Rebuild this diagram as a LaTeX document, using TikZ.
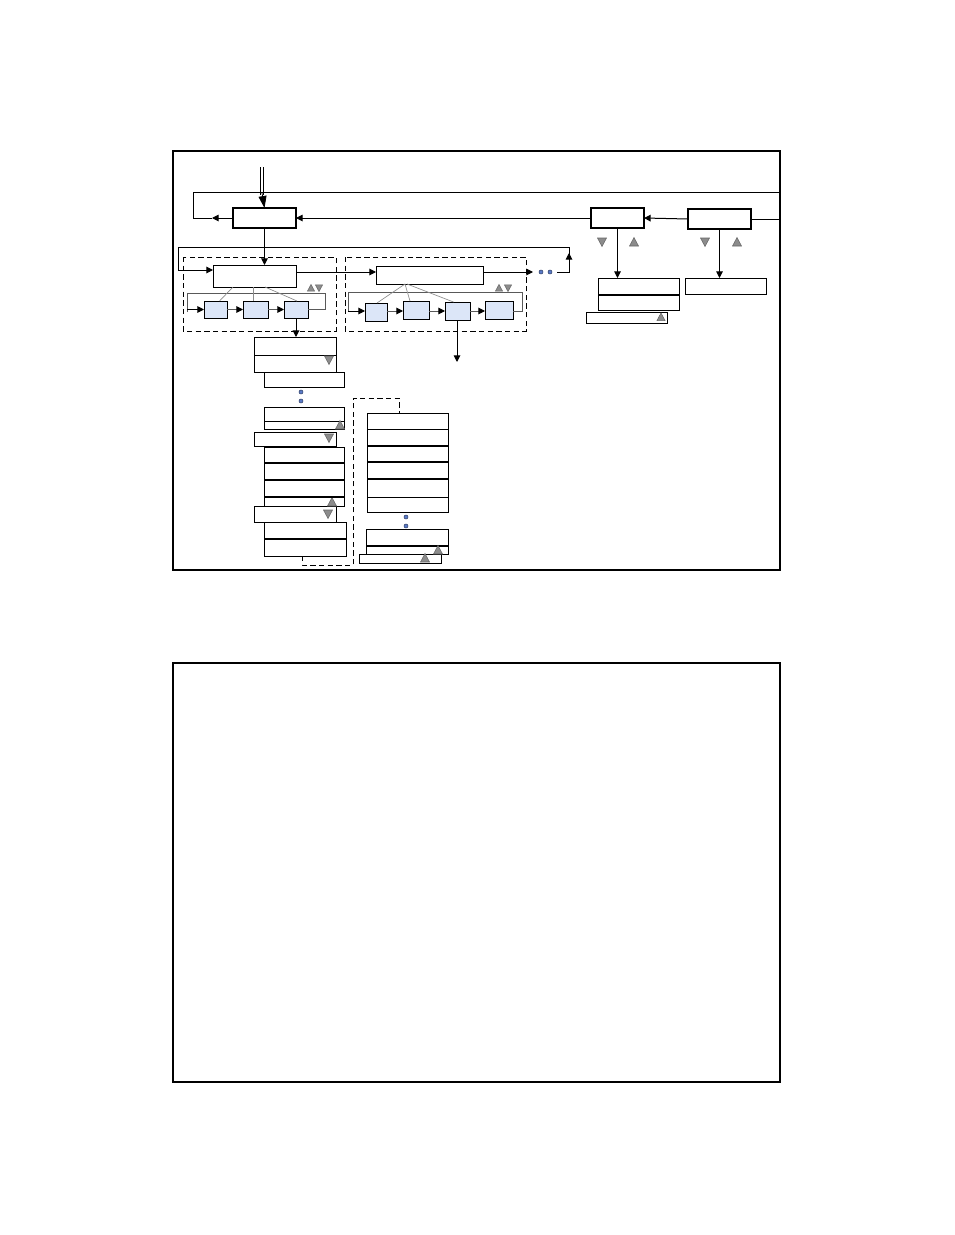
\documentclass[tikz,border=0pt]{standalone}
\usetikzlibrary{arrows.meta,calc}
\definecolor{boxblue}{HTML}{DCE6F8}
\definecolor{trigray}{HTML}{8C8C8C}
\definecolor{dotblue}{HTML}{5A7AC8}
\begin{document}
\begin{tikzpicture}[x=0.75pt,y=-0.75pt,
  bx/.style={draw, line width=0.75pt, inner sep=0pt, outer sep=0pt, anchor=north west, fill=white},
  sz/.style 2 args={minimum width={#1*0.75pt}, minimum height={#2*0.75pt}},
  thk/.style={line width=1.5pt},
  sb/.style={bx, fill=boxblue},
  cn/.style={line width=0.75pt, -{Triangle[length=5pt,width=5pt]}},
  gl/.style={draw=black!65, line width=0.75pt},
  fan/.style={draw=black!45, line width=0.5pt},
  dsh/.style={line width=0.75pt, dash pattern=on 4pt off 2.5pt},
  frame/.style={line width=1.5pt},
  trup/.pic={\filldraw[fill=trigray, draw=black!60, line width=0.4pt] (-4.5,4) -- (4.5,4) -- (0,-4.5) -- cycle;},
  trdn/.pic={\filldraw[fill=trigray, draw=black!60, line width=0.4pt] (-4.5,-4) -- (4.5,-4) -- (0,4.5) -- cycle;},
  dotc/.style={fill=dotblue, draw=dotblue!50!black, line width=0.4pt}
]
\useasboundingbox (0,0) rectangle (954,1235);
% frames
\draw[frame] (173,151) rectangle (780,570);
\draw[frame] (173,663) rectangle (780,1082);

% top boxes
\node[bx, thk, sz={63}{20}] (main) at (233,208) {};
\node[bx, thk, sz={53}{20}] (R1) at (591,208) {};
\node[bx, thk, sz={63}{20}] (R2) at (688,209) {};

% double input arrow
\coordinate (inTop) at (262,167);
\draw[line width=0.6pt] ($(inTop)+(-1.6,0)$) -- ++(0,28);
\draw[line width=0.6pt] ($(inTop)+(1.6,0)$) -- ++(0,28);
\draw[line width=0.6pt, -{Triangle[length=9pt,width=6pt]}] (262,193) -- (main.north);

% outgoing to left and over top
\coordinate (cL1) at (212,218);
\coordinate (cL2) at (193,218);
\coordinate (cL3) at (193,192);
\coordinate (cR0) at (780,192);
\coordinate (cR1) at (780,218);
\draw[cn] (main.west) -- (cL1);
\draw[line width=0.75pt] (cL1) -- (cL2) -- (cL3) -- (cR0);
\draw[cn] (R1.west) -- (main.east);
\draw[cn] (R2.west) -- (R1.east);
\draw[line width=0.75pt] ($(R2.east)+(0,0)$) -- (cR1 |- R2.east);

% triangles right
\pic at (602,242) {trdn};
\pic at (634,242) {trup};
\pic at (705,242) {trdn};
\pic at (737,242) {trup};

% right stacks
\node[bx, sz={81}{17}] (U1) at (598,278) {};
\node[bx, sz={81}{15}] (U2) at (598,295) {};
\draw[thk] (U1.south west) -- (U1.south east);
\node[bx, sz={81}{11}] (U3) at (586,312) {};
\pic[scale=0.9] at (661,317) {trup};
\node[bx, sz={81}{16}] (V1) at (685,278) {};
\draw[cn] (R1.south) -- (R1.south |- U1.north);
\draw[cn] (R2.south) -- (R2.south |- V1.north);

% dashed groups
\draw[dsh] (183,257) rectangle (336,331);
\draw[dsh] (345,257) rectangle (526,331);

% group 1
\node[bx, sz={83}{22}] (A1) at (213,265) {};
\draw[cn] (main.south) -- (main.south |- A1.north);
\node[sb, sz={23}{17}] (b1) at (204,301) {};
\node[sb, sz={25}{17}] (b2) at (243,301) {};
\node[sb, sz={24}{17}] (b3) at (284,301) {};
\draw[gl] (187,312) -- (187,293) -- (325,293) -- (325,309.5) -- (b3.east);
\draw[cn] (187,309.5) -- (b1.west);
\draw[gl] (b1.east) -- ($(b2.west)+(-4,0)$);
\draw[cn] ($(b2.west)+(-5,0)$) -- (b2.west);
\draw[gl] (b2.east) -- ($(b3.west)+(-4,0)$);
\draw[cn] ($(b3.west)+(-5,0)$) -- (b3.west);
\draw[fan] ($(A1.south west)+(20,0)$) -- ($(b1.north)+(4,0)$);
\draw[fan] ($(A1.south west)+(40,0)$) -- ($(b2.north)+(-2.5,0)$);
\draw[fan] ($(A1.south west)+(52,0)$) -- ($(b3.north)+(1,0)$);
\pic[scale=0.8] at (311,288) {trup};
\pic[scale=0.8] at (319,288) {trdn};

% return line
\coordinate (dEnd) at (557,272);
\coordinate (rUp) at (569,272);
\coordinate (rTip) at (569,253);
\coordinate (rTop) at (569,247);
\coordinate (rLeftTop) at (178,247);
\coordinate (rLeftBot) at (178,270);
\draw[cn] (dEnd) -- (rUp) -- (rTip);
\draw[line width=0.75pt] ($(rTip)+(0,2)$) -- (rTop) -- (rLeftTop) -- (rLeftBot);
\draw[cn] (rLeftBot) -- (A1.west |- rLeftBot);

% group 2
\node[bx, sz={107}{18}] (A2) at (376,266) {};
\draw[cn] (A1.east |- 0,272) -- (A2.west |- 0,272);
\coordinate (dStart) at (533,272);
\draw[cn] (A2.east |- 0,272) -- (dStart);
\fill[dotc] (541,272) circle[radius=1.5pt];
\fill[dotc] (550,272) circle[radius=1.5pt];
\node[sb, sz={22}{18}] (c1) at (365,303) {};
\node[sb, sz={26}{18}] (c2) at (403,301) {};
\node[sb, sz={25}{18}] (c3) at (445,302) {};
\node[sb, sz={28}{18}] (c4) at (485,301) {};
\draw[gl] (348,311) -- (348,292) -- (522,292) -- (522,311) -- (c4.east |- 0,311);
\draw[cn] (348,311) -- (c1.west |- 0,311);
\draw[gl] (c1.east |- 0,311) -- (399,311);
\draw[cn] (398,311) -- (c2.west |- 0,311);
\draw[gl] (c2.east |- 0,311) -- (441,311);
\draw[cn] (440,311) -- (c3.west |- 0,311);
\draw[gl] (c3.east |- 0,311) -- (481,311);
\draw[cn] (480,311) -- (c4.west |- 0,311);
\draw[fan] ($(A2.south west)+(29,0)$) -- ($(c1.north)+(1,0)$);
\draw[fan] ($(A2.south west)+(29,0)$) -- ($(c2.north)+(-6,0)$);
\draw[fan] ($(A2.south west)+(31,0)$) -- ($(c3.north)+(-4,0)$);
\pic[scale=0.8] at (499,288) {trup};
\pic[scale=0.8] at (508,288) {trdn};
\coordinate (c3out) at (457,362);
\draw[cn] (c3.south -| c3out) -- (c3out);

% stack S
\node[bx, sz={82}{18}] (S1) at (254,337) {};
\node[bx, sz={82}{17}] (S2) at (254,355) {};
\draw[cn] (b3.south) -- (b3.south |- S1.north);
\pic at (329,360) {trdn};
\node[bx, sz={80}{15}] (S3) at (264,372) {};
\filldraw[dotc] (301,392) circle[radius=1.5pt];
\filldraw[dotc] (301,401) circle[radius=1.5pt];
\node[bx, sz={80}{14}] (S4) at (264,407) {};
\node[bx, sz={80}{8}] (S5) at (264,421) {};
\node[bx, sz={82}{14}] (S6) at (254,432) {};
\pic at (340,425) {trup};
\pic at (329,438) {trdn};
\node[bx, sz={80}{16}] (S7) at (264,447) {};
\node[bx, sz={80}{17}] (S8) at (264,463) {};
\node[bx, sz={80}{17}] (S9) at (264,480) {};
\node[bx, sz={80}{9}] (S10) at (264,497) {};
\node[bx, sz={82}{16}] (S11) at (254,506) {};
\pic at (332,502) {trup};
\pic at (328,514) {trdn};
\node[bx, sz={82}{17}] (S12) at (264,522) {};
\node[bx, sz={82}{17}] (S13) at (264,539) {};
\draw[thk] (S7.south west) -- (S7.south east);
\draw[thk] (S8.south west) -- (S8.south east);
\draw[thk] (S9.south west) -- (S9.south east);
\draw[thk] (S12.south west) -- (S12.south east);

% stack T
\node[bx, sz={81}{16}] (T1) at (367,413) {};
\node[bx, sz={81}{17}] (T2) at (367,429) {};
\node[bx, sz={81}{16}] (T3) at (367,446) {};
\node[bx, sz={81}{17}] (T4) at (367,462) {};
\node[bx, sz={81}{18}] (T5) at (367,479) {};
\node[bx, sz={81}{15}] (T6) at (367,497) {};
\draw[thk] (T2.south west) -- (T2.south east);
\draw[thk] (T3.south west) -- (T3.south east);
\draw[thk] (T4.south west) -- (T4.south east);
\filldraw[dotc] (406,517) circle[radius=1.5pt];
\filldraw[dotc] (406,526) circle[radius=1.5pt];
\node[bx, sz={82}{17}] (T7) at (366,529) {};
\node[bx, sz={82}{8}] (T8) at (366,546) {};
\draw[thk] (T7.south west) -- (T7.south east);
\node[bx, sz={82}{9}] (T9) at (359,554) {};
\pic at (438,550) {trup};
\pic at (425,558) {trup};

% dashed link S -> T
\coordinate (k1) at (302,565);
\coordinate (k2) at (353,565);
\coordinate (k3) at (353,398);
\coordinate (k4) at (399,398);
\draw[dsh] ($(S13.south west)+(38,0)$) -- (k1) -- (k2) -- (k3) -- (k4) -- (k4 |- T1.north);
\end{tikzpicture}
\end{document}
